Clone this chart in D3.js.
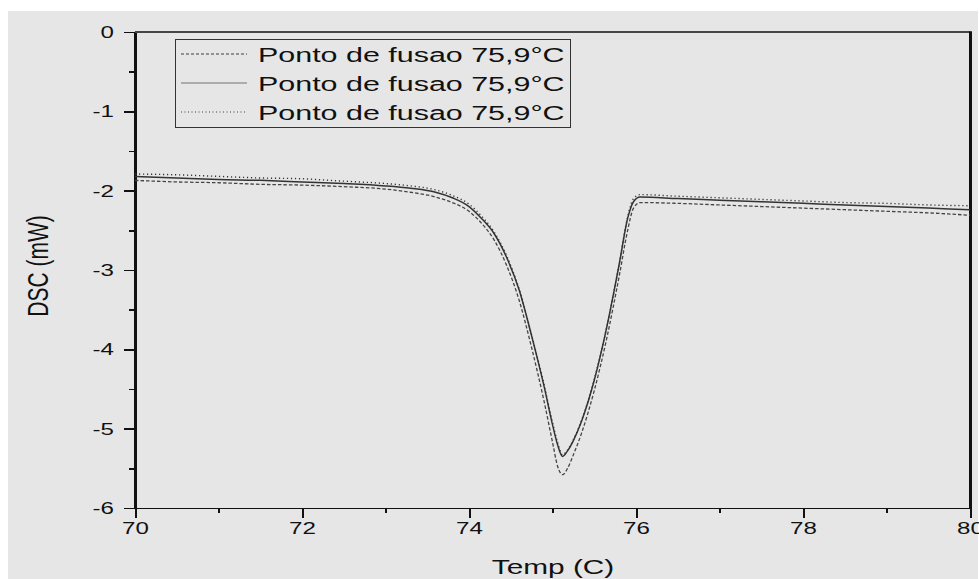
<!DOCTYPE html>
<html lang="pt">
  <head>
    <meta charset="UTF-8" />
    <title>DSC - Ponto de fusao</title>
    <script src="https://d3js.org/d3.v7.min.js"></script>
    <style>
      body {
        margin: 0;
        background: #ffffff;
        font-family: "Liberation Sans", Arial, sans-serif;
      }
      .axis path,
      .axis line {
        fill: none;
        stroke: #111;
        shape-rendering: crispEdges;
      }
      .axis text {
        font-family: "Liberation Sans", Arial, sans-serif;
        fill: #111;
      }
      .curve {
        fill: none;
      }
    </style>
  </head>
  <body>
    <script>
      // Temperatures (C), shared by the three runs
      var temps = [70, 70.5, 71, 71.5, 72, 72.5, 73, 73.3, 73.6, 73.8, 74.0, 74.15,
        74.3, 74.45, 74.6, 74.75, 74.9, 75.0, 75.06, 75.12, 75.18, 75.25, 75.35,
        75.5, 75.65, 75.8, 75.9, 75.97, 76.05, 76.5, 77, 77.5, 78, 78.5, 79, 79.5, 80];

      // DSC (mW) for each run
      var dscDashed = [-1.87, -1.89, -1.90, -1.92, -1.93, -1.95, -1.98, -2.02, -2.08,
        -2.15, -2.26, -2.41, -2.62, -2.94, -3.38, -3.98, -4.66, -5.17, -5.47, -5.58,
        -5.50, -5.33, -5.05, -4.52, -3.86, -3.07, -2.50, -2.22, -2.15, -2.16, -2.18,
        -2.20, -2.22, -2.24, -2.26, -2.28, -2.31];
      var dscSolid = [-1.82, -1.84, -1.86, -1.87, -1.89, -1.91, -1.94, -1.97, -2.02,
        -2.09, -2.20, -2.35, -2.54, -2.84, -3.25, -3.83, -4.47, -4.95, -5.20, -5.35,
        -5.28, -5.15, -4.90, -4.39, -3.72, -2.92, -2.35, -2.14, -2.08, -2.10, -2.12,
        -2.14, -2.16, -2.18, -2.20, -2.22, -2.24];
      var dscDotted = [-1.79, -1.80, -1.82, -1.84, -1.85, -1.88, -1.91, -1.94, -1.99,
        -2.06, -2.17, -2.32, -2.52, -2.82, -3.24, -3.82, -4.45, -4.92, -5.17, -5.33,
        -5.27, -5.14, -4.89, -4.38, -3.72, -2.92, -2.33, -2.10, -2.05, -2.07, -2.09,
        -2.11, -2.13, -2.15, -2.16, -2.18, -2.19];

      var legendLabels = ["Ponto de fusao 75,9°C", "Ponto de fusao 75,9°C", "Ponto de fusao 75,9°C"];
      var xMajorTicks = [70, 72, 74, 76, 78, 80];
      var xMinorTicks = [71, 73, 75, 77, 79];
      var yMajorTicks = [0, -1, -2, -3, -4, -5, -6];
      var yMinorTicks = [-0.5, -1.5, -2.5, -3.5, -4.5, -5.5];

      // the original picture is stretched sideways, so the text is too
      var stretch = 1.42;

      var width = 979,
        height = 579;
      var plot = { left: 135, right: 970, top: 32, bottom: 508 };

      var svg = d3
        .select("body")
        .append("svg")
        .attr("width", width)
        .attr("height", height);

      // grey panel behind the chart
      svg
        .append("rect")
        .attr("x", 8)
        .attr("y", 11)
        .attr("width", 970)
        .attr("height", height - 11)
        .attr("fill", "#e6e6e6");

      var x = d3.scaleLinear().domain([70, 80]).range([plot.left, plot.right]);
      var y = d3.scaleLinear().domain([-6, 0]).range([plot.bottom, plot.top]);

      // frame: top and right sides
      svg
        .append("line")
        .attr("x1", plot.left)
        .attr("x2", plot.right)
        .attr("y1", plot.top)
        .attr("y2", plot.top)
        .attr("stroke", "#111")
        .attr("stroke-width", 1.5);
      svg
        .append("line")
        .attr("x1", plot.right + 0.5)
        .attr("x2", plot.right + 0.5)
        .attr("y1", plot.top - 0.75)
        .attr("y2", plot.bottom)
        .attr("stroke", "#111")
        .attr("stroke-width", 3);

      // x axis, minor ticks then major ticks
      svg
        .append("g")
        .attr("class", "axis")
        .attr("transform", "translate(0," + plot.bottom + ")")
        .call(d3.axisBottom(x).tickValues(xMinorTicks).tickSize(5).tickSizeOuter(0).tickFormat(""))
        .call(function (g) { g.select(".domain").remove(); })
        .selectAll("line")
        .attr("stroke-width", 1.5);

      var xAxis = svg
        .append("g")
        .attr("class", "axis")
        .attr("transform", "translate(0," + plot.bottom + ")")
        .call(d3.axisBottom(x).tickValues(xMajorTicks).tickSize(10).tickSizeOuter(0).tickPadding(4));
      xAxis.select(".domain").attr("stroke-width", 1.5);
      xAxis.selectAll("line").attr("stroke-width", 2);
      xAxis
        .selectAll(".tick text")
        .style("font-size", "17px")
        .attr("transform", "scale(" + stretch + ",1)");

      // y axis, labels keep the plain hyphen of the original
      svg
        .append("g")
        .attr("class", "axis")
        .attr("transform", "translate(" + plot.left + ",0)")
        .call(d3.axisLeft(y).tickValues(yMinorTicks).tickSize(6).tickSizeOuter(0).tickFormat(""))
        .call(function (g) { g.select(".domain").remove(); })
        .selectAll("line")
        .attr("stroke-width", 1.5);

      var yAxis = svg
        .append("g")
        .attr("class", "axis")
        .attr("transform", "translate(" + plot.left + ",0)")
        .call(
          d3.axisLeft(y).tickValues(yMajorTicks).tickSize(11).tickSizeOuter(0)
            .tickFormat(function (d) { return String(d); })
        );
      yAxis.select(".domain").attr("stroke-width", 2.5);
      yAxis.selectAll("line").attr("stroke-width", 1.5);
      yAxis
        .selectAll(".tick text")
        .style("font-size", "17px")
        .attr("x", 0)
        .attr("transform", "translate(-21,0) scale(" + stretch + ",1)");

      // axis titles
      svg
        .append("text")
        .attr("transform", "translate(553,574) scale(" + stretch + ",1)")
        .attr("text-anchor", "middle")
        .style("font-size", "21px")
        .style("fill", "#111")
        .text("Temp (C)");
      svg
        .append("text")
        .attr("transform", "translate(48,266) scale(" + stretch + ",1) rotate(-90)")
        .attr("text-anchor", "middle")
        .style("font-size", "21px")
        .style("fill", "#111")
        .text("DSC (mW)");

      // the three runs
      var series = [
        { values: dscDashed, dash: "3.5,2", color: "#444", width: 1.3 },
        { values: dscSolid, dash: null, color: "#333", width: 1.5 },
        { values: dscDotted, dash: "1.2,2.8", color: "#333", width: 1.4 },
      ];

      var line = d3
        .line()
        .x(function (d) { return x(d[0]); })
        .y(function (d) { return y(d[1]); })
        .curve(d3.curveMonotoneX);

      svg
        .selectAll(".curve")
        .data(series)
        .enter()
        .append("path")
        .attr("class", "curve")
        .attr("stroke", function (d) { return d.color; })
        .attr("stroke-width", function (d) { return d.width; })
        .attr("stroke-dasharray", function (d) { return d.dash; })
        .attr("d", function (d) {
          return line(temps.map(function (t, i) { return [t, d.values[i]]; }));
        });

      // legend
      var legend = svg.append("g");
      legend
        .append("rect")
        .attr("x", 175.5)
        .attr("y", 39.5)
        .attr("width", 395)
        .attr("height", 88)
        .attr("fill", "none")
        .attr("stroke", "#333")
        .attr("stroke-width", 1);

      var legendStyles = [
        { dash: "3,2", color: "#777" },
        { dash: null, color: "#999" },
        { dash: "1,2.5", color: "#777" },
      ];
      var rowY = d3.scalePoint().domain(d3.range(legendLabels.length)).range([54, 112]);

      legendLabels.forEach(function (label, i) {
        legend
          .append("line")
          .attr("x1", 181)
          .attr("x2", 247)
          .attr("y1", rowY(i))
          .attr("y2", rowY(i))
          .attr("stroke", legendStyles[i].color)
          .attr("stroke-width", 1.3)
          .attr("stroke-dasharray", legendStyles[i].dash);
        legend
          .append("text")
          .attr("transform", "translate(258," + (rowY(i) + 7.5) + ") scale(1.45,1)")
          .style("font-size", "21px")
          .style("fill", "#111")
          .text(label);
      });
    </script>
  </body>
</html>
